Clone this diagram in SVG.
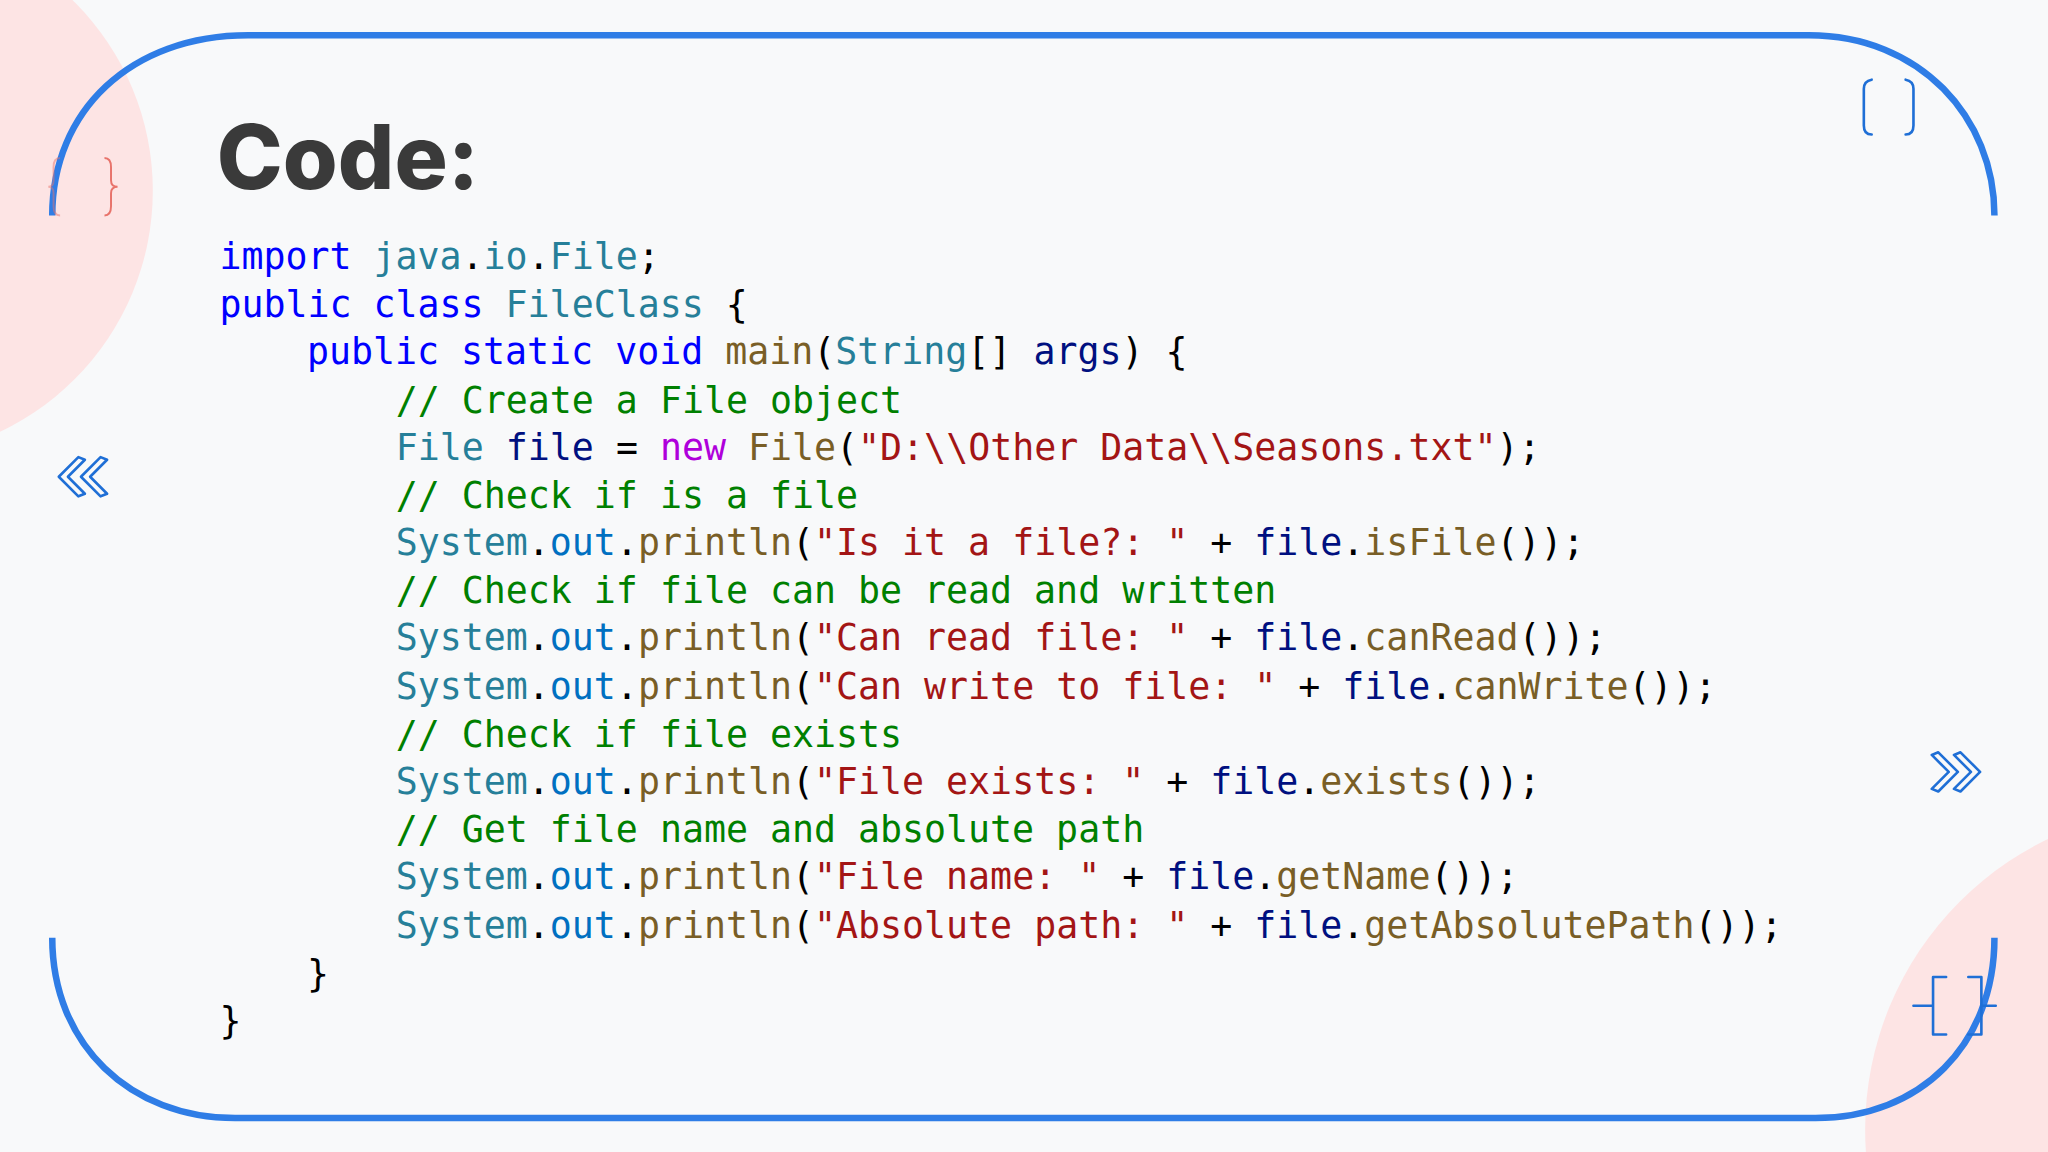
<svg xmlns="http://www.w3.org/2000/svg" width="2048" height="1152" viewBox="0 0 2048 1152">
<style>
.code{font-family:"DejaVu Sans Mono","Liberation Mono",monospace;font-size:28px;white-space:pre;fill:#000}
.k{fill:#0000ff}.t{fill:#267f99}.m{fill:#795e26}.v{fill:#001080}.s{fill:#a31515}.c{fill:#008000}.n{fill:#af00db}.o{fill:#0070c1}
.frame{fill:none;stroke:#2f7de6;stroke-width:5}
.deco{fill:none;stroke:#1f6fd6;stroke-width:2;stroke-linejoin:round;stroke-linecap:round}
</style>
<rect width="2048" height="1152" fill="#f8f9fa"/>
<g transform="scale(1.30612)">
<g id="bg-shapes">
<circle cx="-87" cy="146" r="204" fill="#fde4e4"/>
<circle cx="1675" cy="865" r="247" fill="#fde4e4"/>
</g>
<g id="frame">
<path class="frame" d="M40,165 C40,85 100,27 190,27 L1385,27 C1470,27 1527,90 1527,165"/>
<path class="frame" d="M40,718 C40,800 100,856 180,856 L1390,856 C1470,856 1527,800 1527,718"/>
</g>
<g id="decorations">
<path d="M46,121 Q41,121 41,128 L41,138 Q41,143 37,143 Q41,143 41,148 L41,158 Q41,165 46,165" fill="none" stroke="#e8736b" stroke-width="1.5" opacity="0.5"/>
<path d="M80,121 Q85,121 85,128 L85,138 Q85,143 90,143 Q85,143 85,148 L85,158 Q85,165 80,165" fill="none" stroke="#e8736b" stroke-width="1.5"/>
<path class="deco" d="M1433,61 Q1427,62 1427,68 L1427,96 Q1427,103 1433,103"/>
<path class="deco" d="M1459,61 Q1465,62 1465,68 L1465,96 Q1465,103 1459,103"/>
<path class="deco" d="M45,365 L60,350 L65,352 L52,365 L65,378 L60,380 Z"/>
<path class="deco" d="M62,365 L77,350 L82,352 L69,365 L82,378 L77,380 Z"/>
<path class="deco" d="M1516,591 L1501,576 L1496,578 L1509,591 L1496,604 L1501,606 Z"/>
<path class="deco" d="M1499,591 L1484,576 L1479,578 L1492,591 L1479,604 L1484,606 Z"/>
<path class="deco" d="M1490,748 L1480,748 L1480,792 L1490,792 M1507,748 L1517,748 L1517,792 L1507,792 M1465,770 L1480,770 M1517,770 L1528,770" stroke="#3b7fe0" stroke-linecap="butt"/>
</g>
<g id="title">
<text x="166" y="145" font-family="Inter,Roboto,'Liberation Sans',sans-serif" font-weight="800" font-size="68" fill="#3a3a3a">Code:</text>
</g>
<g id="code">
<text class="code" x="168" y="206"><tspan class="k">import</tspan> <tspan class="t">java</tspan>.<tspan class="t">io</tspan>.<tspan class="t">File</tspan>;</text>
<text class="code" x="168" y="243"><tspan class="k">public</tspan> <tspan class="k">class</tspan> <tspan class="t">FileClass</tspan> {</text>
<text class="code" x="235" y="279"><tspan class="k">public</tspan> <tspan class="k">static</tspan> <tspan class="k">void</tspan> <tspan class="m">main</tspan>(<tspan class="t">String</tspan>[] <tspan class="v">args</tspan>) {</text>
<text class="code" x="303" y="316"><tspan class="c">// Create a File object</tspan></text>
<text class="code" x="303" y="352"><tspan class="t">File</tspan> <tspan class="v">file</tspan> = <tspan class="n">new</tspan> <tspan class="m">File</tspan>(<tspan class="s">"D:\\Other Data\\Seasons.txt"</tspan>);</text>
<text class="code" x="303" y="389"><tspan class="c">// Check if is a file</tspan></text>
<text class="code" x="303" y="425"><tspan class="t">System</tspan>.<tspan class="o">out</tspan>.<tspan class="m">println</tspan>(<tspan class="s">"Is it a file?: "</tspan> + <tspan class="v">file</tspan>.<tspan class="m">isFile</tspan>());</text>
<text class="code" x="303" y="462"><tspan class="c">// Check if file can be read and written</tspan></text>
<text class="code" x="303" y="498"><tspan class="t">System</tspan>.<tspan class="o">out</tspan>.<tspan class="m">println</tspan>(<tspan class="s">"Can read file: "</tspan> + <tspan class="v">file</tspan>.<tspan class="m">canRead</tspan>());</text>
<text class="code" x="303" y="535"><tspan class="t">System</tspan>.<tspan class="o">out</tspan>.<tspan class="m">println</tspan>(<tspan class="s">"Can write to file: "</tspan> + <tspan class="v">file</tspan>.<tspan class="m">canWrite</tspan>());</text>
<text class="code" x="303" y="572"><tspan class="c">// Check if file exists</tspan></text>
<text class="code" x="303" y="608"><tspan class="t">System</tspan>.<tspan class="o">out</tspan>.<tspan class="m">println</tspan>(<tspan class="s">"File exists: "</tspan> + <tspan class="v">file</tspan>.<tspan class="m">exists</tspan>());</text>
<text class="code" x="303" y="645"><tspan class="c">// Get file name and absolute path</tspan></text>
<text class="code" x="303" y="681"><tspan class="t">System</tspan>.<tspan class="o">out</tspan>.<tspan class="m">println</tspan>(<tspan class="s">"File name: "</tspan> + <tspan class="v">file</tspan>.<tspan class="m">getName</tspan>());</text>
<text class="code" x="303" y="718"><tspan class="t">System</tspan>.<tspan class="o">out</tspan>.<tspan class="m">println</tspan>(<tspan class="s">"Absolute path: "</tspan> + <tspan class="v">file</tspan>.<tspan class="m">getAbsolutePath</tspan>());</text>
<text class="code" x="235" y="755">}</text>
<text class="code" x="168" y="791">}</text>
</g>
</g>
</svg>
